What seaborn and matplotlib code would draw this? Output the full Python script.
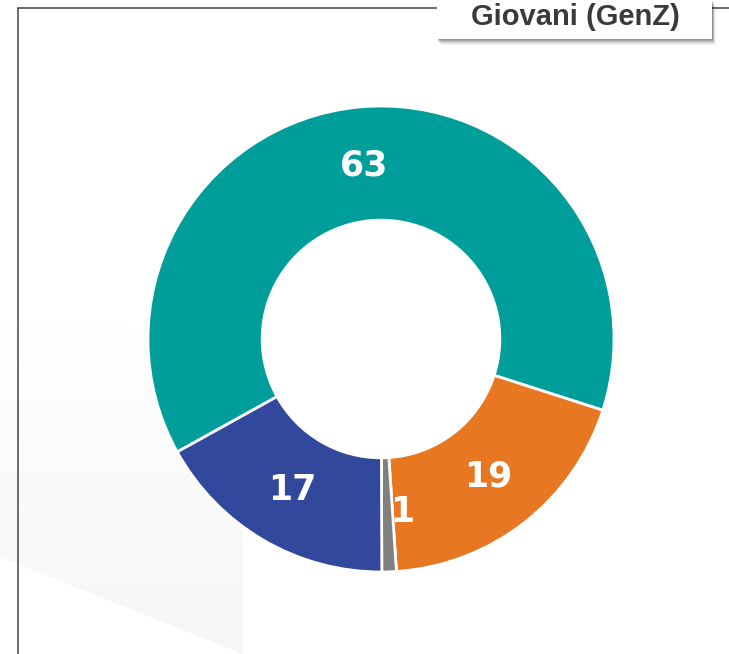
import matplotlib
matplotlib.use("Agg")
import matplotlib.pyplot as plt
import numpy as np
import seaborn as sns
from matplotlib.colors import LinearSegmentedColormap
from matplotlib.lines import Line2D
from matplotlib.patches import Polygon, Rectangle

# Data
categories = ["Teal", "Arancio", "Grigio", "Blu"]
values = [63, 19, 1, 17]
colors = ["#009E9A", "#E87722", "#808080", "#32489C"]
title = "Giovani (GenZ)"

sns.set_theme(style="white")
plt.rcParams["font.family"] = ["DejaVu Sans"]

W, H = 729, 654
fig = plt.figure(figsize=(W / 100, H / 100), dpi=100)
fig.patch.set_facecolor("white")


def fx(px):
    return px / W


def fy(py):
    return 1 - py / H


# faint background shape in the lower left
bg = fig.add_axes([0, 0, 1, 1], zorder=0)
bg.set_xlim(0, W)
bg.set_ylim(H, 0)
bg.axis("off")
grad = np.linspace(0, 1, 256).reshape(-1, 1)
cmap = LinearSegmentedColormap.from_list("g", ["#ffffff", "#ffffff", "#f6f6f7"])
img = bg.imshow(grad, extent=[0, W, H, 0], cmap=cmap, aspect="auto", vmin=0, vmax=1)
clip = Polygon([(0, 200), (243, 430), (243, 654), (0, 557)], transform=bg.transData,
               facecolor="none", edgecolor="none")
bg.add_patch(clip)
img.set_clip_path(clip)

# frame lines
fig.add_artist(Line2D([fx(18), fx(18)], [fy(8), 0], color="#444444", lw=1.1))
fig.add_artist(Line2D([fx(18), 1], [fy(8), fy(8)], color="#444444", lw=1.1))

# title box with soft shadow
for i, a in enumerate([0.04, 0.06, 0.08, 0.10, 0.12, 0.14]):
    off = 6 - i
    fig.add_artist(Rectangle((fx(437 + off * 0.6), fy(39 + off)), fx(275), 39 / H,
                             facecolor="black", alpha=a, edgecolor="none", zorder=4))
fig.add_artist(Rectangle((fx(437), fy(39)), fx(275), 39 / H, facecolor="white",
                         edgecolor="none", zorder=5))
fig.text(fx(575), fy(17), title, ha="center", va="center", fontsize=21,
         fontweight="bold", color="#3a3a3a", family=["Liberation Sans", "DejaVu Sans"],
         zorder=6)

# donut
ax = fig.add_axes([fx(148), fy(572), 466 / W, 466 / H], zorder=2)
wedges, _ = ax.pie(values, colors=colors, startangle=209, counterclock=False,
                   radius=1, wedgeprops=dict(width=0.49, edgecolor="white", linewidth=2))
ax.set_xlim(-1, 1)
ax.set_ylim(-1, 1)
ax.set_aspect("equal")
ax.axis("off")

for w, v in zip(wedges, values):
    mid = np.deg2rad((w.theta1 + w.theta2) / 2)
    r = 0.75
    if v < 3:
        mid += np.deg2rad(5)
    ax.text(r * np.cos(mid), r * np.sin(mid), str(v), ha="center", va="center",
            fontsize=25, fontweight="bold", color="white")

fig.savefig("out.png", dpi=100, facecolor="white")
